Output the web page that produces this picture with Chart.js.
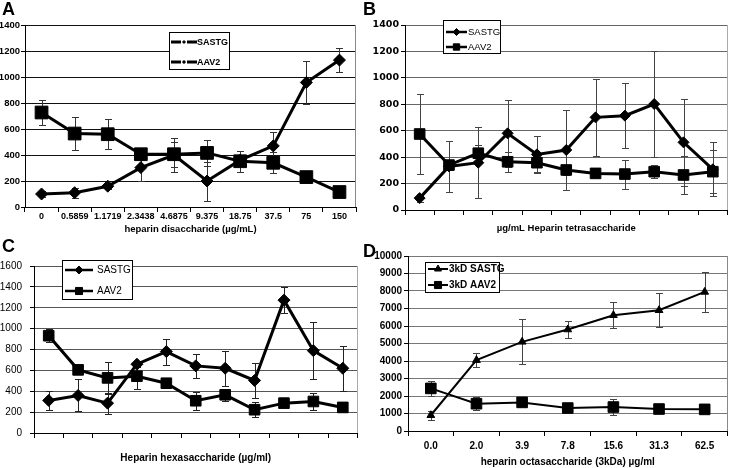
<!DOCTYPE html>
<html>
<head>
<meta charset="utf-8">
<script src="https://cdn.jsdelivr.net/npm/chart.js@4.4.1/dist/chart.umd.min.js"></script>
<style>
body { margin: 0; background: #fff; }
#wrap { position: relative; width: 736px; height: 468px; overflow: hidden; font-family: 'Liberation Sans', Arial, sans-serif; }
canvas { position: absolute; }
.lbl { position: absolute; font-weight: bold; font-size: 18px; line-height: 18px; }
</style>
</head>
<body>
<div id="wrap">
  <canvas id="cA" width="366" height="245" style="left:0;top:0"></canvas>
  <canvas id="cB" width="370" height="240" style="left:366px;top:0"></canvas>
  <canvas id="cC" width="366" height="238" style="left:0;top:230px"></canvas>
  <canvas id="cD" width="370" height="238" style="left:366px;top:230px"></canvas>
  <div class="lbl" style="left:2px;top:0">A</div>
  <div class="lbl" style="left:363px;top:0">B</div>
  <div class="lbl" style="left:2px;top:237px">C</div>
  <div class="lbl" style="left:363px;top:242px">D</div>
</div>
<script>
// A - heparin disaccharide
const labelsA = ['0', '0.5859', '1.1719', '2.3438', '4.6875', '9.375', '18.75', '37.5', '75', '150'];
const sastgA = [100, 110, 160, 303, 400, 200, 360, 470, 958, 1130];
const sastgErrA = [25, 40, 20, 105, 130, 150, 40, 105, 165, 95];
const aav2A = [727, 565, 560, 406, 406, 416, 352, 340, 230, 115];
const aav2ErrA = [95, 125, 115, 20, 95, 100, 80, 80, 20, 15];

// B - heparin tetrasaccharide (no category labels shown)
const labelsB = ['', '', '', '', '', '', '', '', '', '', ''];
const sastgB = [90, 330, 358, 580, 421, 454, 701, 714, 802, 512, 308];
const sastgErrB = [30, 190, 270, 255, 140, 305, 293, 245, 400, 330, 205];
const aav2B = [575, 340, 430, 365, 358, 303, 277, 272, 290, 265, 290];
const aav2ErrB = [300, 40, 65, 75, 70, 40, 30, 110, 50, 145, 165];

// C - heparin hexasaccharide
const labelsC = ['', '', '', '', '', '', '', '', '', '', ''];
const sastgC = [312, 360, 286, 659, 780, 643, 620, 503, 1273, 789, 620];
const sastgErrC = [88, 153, 100, 30, 125, 112, 165, 167, 125, 275, 215];
const aav2C = [932, 605, 528, 544, 477, 309, 366, 223, 286, 302, 245];
const aav2ErrC = [60, 30, 150, 120, 50, 88, 60, 70, 20, 85, 20];

// D - heparin octasaccharide (3kDa)
const labelsD = ['0.0', '2.0', '3.9', '7.8', '15.6', '31.3', '62.5'];
const sastgD = [900, 4050, 5095, 5800, 6616, 6900, 7947];
const sastgErrD = [250, 380, 1280, 500, 730, 970, 1130];
const aav2D = [2433, 1559, 1635, 1312, 1369, 1255, 1236];
const aav2ErrD = [450, 370, 100, 100, 480, 80, 80];

const sans = "'Liberation Sans', Arial, sans-serif";
const wide = "'DejaVu Sans', Verdana, sans-serif";

Chart.defaults.font.family = sans;
Chart.defaults.color = '#000';

// error bars, drawn under the markers
const errorBars = {
    id: 'errorBars',
    beforeDatasetsDraw(chart, args, opts) {
        const ctx = chart.ctx;
        const y = chart.scales.y;
        ctx.save();
        ctx.strokeStyle = opts.color;
        ctx.lineWidth = 1;
        chart.data.datasets.forEach((ds, i) => {
            const errs = opts.errors[i];
            chart.getDatasetMeta(i).data.forEach((pt, j) => {
                const v = ds.data[j], e = errs[j];
                const x = Math.round(pt.x) + 0.5;
                const t = Math.round(y.getPixelForValue(v + e)) + 0.5;
                const b = Math.round(y.getPixelForValue(Math.max(v - e, 0))) + 0.5;
                ctx.beginPath();
                ctx.moveTo(x, t); ctx.lineTo(x, b);
                ctx.moveTo(x - opts.cap, t); ctx.lineTo(x + opts.cap, t);
                ctx.moveTo(x - opts.cap, b); ctx.lineTo(x + opts.cap, b);
                ctx.stroke();
            });
        });
        ctx.restore();
    }
};

// right edge of the plot box
const frame = {
    id: 'frame',
    beforeDatasetsDraw(chart, args, opts) {
        const a = chart.chartArea, ctx = chart.ctx;
        ctx.save();
        ctx.strokeStyle = opts.color;
        ctx.lineWidth = 1;
        ctx.beginPath();
        ctx.moveTo(Math.round(a.right) - 0.5, a.top);
        ctx.lineTo(Math.round(a.right) - 0.5, a.bottom);
        ctx.stroke();
        ctx.restore();
    }
};

// boxed legend like the original
const boxLegend = {
    id: 'boxLegend',
    afterDraw(chart, args, o) {
        const ctx = chart.ctx;
        ctx.save();
        ctx.fillStyle = '#fff';
        ctx.fillRect(o.x, o.y, o.w, o.h);
        ctx.strokeStyle = '#000';
        ctx.lineWidth = 1;
        ctx.strokeRect(o.x + 0.5, o.y + 0.5, o.w, o.h);
        ctx.font = o.font;
        ctx.textBaseline = 'middle';
        chart.data.datasets.forEach((ds, i) => {
            const ry = o.rows[i];
            const mid = o.sx + o.sw / 2;
            ctx.strokeStyle = '#000';
            ctx.lineWidth = o.lw;
            ctx.beginPath();
            if (o.gap) {
                ctx.moveTo(o.sx, ry); ctx.lineTo(mid - o.gap, ry);
                ctx.moveTo(mid + o.gap, ry); ctx.lineTo(o.sx + o.sw, ry);
            } else {
                ctx.moveTo(o.sx, ry); ctx.lineTo(o.sx + o.sw, ry);
            }
            ctx.stroke();
            ctx.fillStyle = '#000';
            ctx.lineWidth = 1;
            Chart.helpers.drawPoint(ctx, { pointStyle: ds.pointStyle, radius: o.mr[i], rotation: 0, borderWidth: 1 }, mid, ry);
            ctx.fillStyle = '#000';
            ctx.fillText(ds.label, o.tx, ry + 0.5);
        });
        ctx.restore();
    }
};

function panel(id, p) {
    return new Chart(document.getElementById(id), {
        type: 'line',
        data: {
            labels: p.labels,
            datasets: [{
                label: p.names[0],
                data: p.s1,
                borderColor: '#000',
                backgroundColor: '#000',
                borderWidth: p.lw,
                pointStyle: p.ps[0],
                pointRadius: p.pr[0],
                pointBorderWidth: 1,
                pointBorderColor: '#000',
                pointBackgroundColor: '#000',
                order: 2
            }, {
                label: p.names[1],
                data: p.s2,
                borderColor: '#000',
                backgroundColor: '#000',
                borderWidth: p.lw,
                pointStyle: p.ps[1],
                pointRadius: p.pr[1],
                pointBorderWidth: 1,
                pointBorderColor: '#000',
                pointBackgroundColor: '#000',
                order: 1
            }]
        },
        options: {
            responsive: false,
            animation: false,
            layout: { padding: p.pad },
            plugins: {
                legend: { display: false },
                tooltip: { enabled: false },
                errorBars: { errors: [p.e1, p.e2], color: p.errColor, cap: 3.5 },
                frame: { color: p.frameColor },
                boxLegend: p.legend
            },
            scales: {
                x: {
                    offset: true,
                    afterFit: s => { s.height = p.xh; },
                    grid: { offset: true, drawOnChartArea: false, tickLength: 5, tickColor: '#000' },
                    border: { color: '#000', width: 1 },
                    ticks: { display: p.showX, font: p.xFont, padding: p.xpad, maxRotation: 0, autoSkip: false },
                    title: { display: true, text: p.xTitle, font: p.titleFont, padding: 0 }
                },
                y: {
                    min: 0,
                    max: p.ymax,
                    afterFit: s => { s.width = p.yw; },
                    grid: { color: p.gridColor, tickColor: '#000', tickLength: 4 },
                    border: { color: '#000', width: 1 },
                    ticks: { stepSize: p.step, font: p.yFont, padding: p.ypad, callback: v => String(v) }
                }
            }
        },
        plugins: [errorBars, frame, boxLegend]
    });
}

panel('cA', {
    labels: labelsA, names: ['SASTG', 'AAV2'],
    s1: sastgA, s2: aav2A, e1: sastgErrA, e2: aav2ErrA,
    ps: ['rectRot', 'rect'], pr: [6, 9], lw: 3,
    pad: { left: 0, right: 8, top: 25, bottom: 10 },
    xh: 28, yw: 25, ypad: 1, xpad: -1, ymax: 1400, step: 200,
    showX: true,
    xFont: { size: 9, weight: 'bold' },
    yFont: { size: 9.5, weight: 'bold' },
    titleFont: { size: 9.5, weight: 'bold' },
    xTitle: 'heparin disaccharide (\u00b5g/mL)',
    gridColor: '#111', errColor: '#333', frameColor: '#888',
    legend: { x: 169, y: 32, w: 60, h: 37, rows: [42, 62], sx: 171, sw: 26, gap: 3, tx: 197, lw: 3, mr: [1.5, 1.5], font: 'bold 9px ' + sans }
});

panel('cB', {
    labels: labelsB, names: ['SASTG', 'AAV2'],
    s1: sastgB, s2: aav2B, e1: sastgErrB, e2: aav2ErrB,
    ps: ['rectRot', 'rect'], pr: [5.5, 7.5], lw: 3,
    pad: { left: 0, right: 1, top: 25, bottom: 6 },
    xh: 24, yw: 39, ypad: 2, xpad: -1, ymax: 1400, step: 200,
    showX: false,
    xFont: { size: 10, weight: 'bold' },
    yFont: { family: wide, size: 9.5, weight: 'bold' },
    titleFont: { size: 9.5, weight: 'bold' },
    xTitle: '\u00b5g/mL Heparin tetrasaccharide',
    gridColor: '#666', errColor: '#444', frameColor: '#aaa',
    legend: { x: 77, y: 20, w: 57, h: 33, rows: [32, 47], sx: 80, sw: 21, tx: 102, lw: 2.5, mr: [3.5, 4.5], font: '9.5px ' + sans }
});

panel('cC', {
    labels: labelsC, names: ['SASTG', 'AAV2'],
    s1: sastgC, s2: aav2C, e1: sastgErrC, e2: aav2ErrC,
    ps: ['rectRot', 'rect'], pr: [6, 7.5], lw: 3,
    pad: { left: 0, right: 8, top: 36, bottom: 4 },
    xh: 31, yw: 34, ypad: 8, xpad: -1, ymax: 1600, step: 200,
    showX: false,
    xFont: { size: 10 },
    yFont: { size: 10 },
    titleFont: { size: 10, weight: 'bold' },
    xTitle: 'Heparin hexasaccharide (\u00b5g/ml)',
    gridColor: '#555', errColor: '#222', frameColor: '#aaa',
    legend: { x: 62, y: 30, w: 70, h: 39, rows: [40, 61], sx: 65, sw: 28, tx: 97, lw: 2.5, mr: [4, 5], font: '10px ' + sans }
});

panel('cD', {
    labels: labelsD, names: ['3kD SASTG', '3kD AAV2'],
    s1: sastgD, s2: aav2D, e1: sastgErrD, e2: aav2ErrD,
    ps: ['triangle', 'rect'], pr: [4.5, 7.5], lw: 2,
    pad: { left: 0, right: 2, top: 26, bottom: 0 },
    xh: 37, yw: 42, ypad: 2, xpad: 4, ymax: 10000, step: 1000,
    showX: true,
    xFont: { size: 10, weight: 'bold' },
    yFont: { size: 10, weight: 'bold' },
    titleFont: { size: 10, weight: 'bold' },
    xTitle: 'heparin octasaccharide (3kDa) \u00b5g/ml',
    gridColor: '#777', errColor: '#444', frameColor: '#888',
    legend: { x: 59, y: 32, w: 74, h: 30, rows: [39, 55], sx: 62, sw: 20, tx: 83, lw: 2, mr: [4, 5], font: 'bold 10px ' + sans }
});
</script>
</body>
</html>
